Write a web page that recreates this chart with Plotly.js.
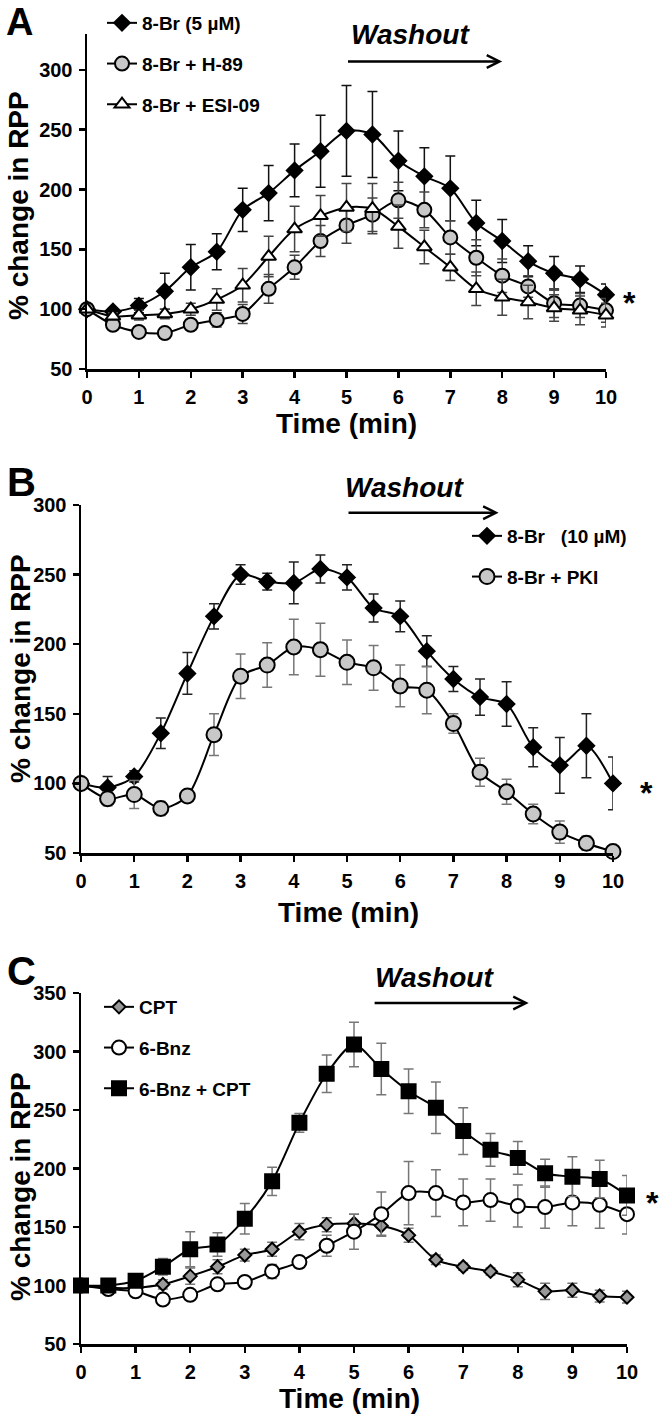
<!DOCTYPE html>
<html>
<head>
<meta charset="utf-8">
<script src="https://cdn.plot.ly/plotly-3.0.1.min.js"></script>
<style>html,body{margin:0;padding:0;background:#fff;}#chart{width:664px;height:1417px;}</style>
</head>
<body>
<div id="chart"></div>
<script>
// ---- data ----
const time = [0,0.5,1,1.5,2,2.5,3,3.5,4,4.5,5,5.5,6,6.5,7,7.5,8,8.5,9,9.5,10];

// Panel A
const aBr5     = [100,98,103,115,135,148,183,197,216,232,249,246,224,211,201,172,157,140,130,125,112];
const aBr5Err  = [0,3,6,15,19,15,18,23,22,30,38,36,25,24,27,19,18,13,14,11,9];
const aH89     = [100,87,81,80,87,91,96,117,135,157,170,179,191,183,160,143,128,119,105,103,99];
const aH89Err  = [0,3,4,4,4,6,8,12,10,13,15,14,15,15,14,15,14,9,12,10,10];
const aEsi     = [100,94,95,96,100,108,120,144,167,178,185,184,169,152,135,117,110,106,101,99,95];
const aEsiErr  = [0,3,4,4,5,9,14,17,19,17,20,21,18,14,11,14,15,14,11,12,10];

// Panel B
const bBr10    = [100,97,105,136,179,220,250,245,244,254,248,226,220,195,175,162,157,126,113,127,100];
const bBr10Err = [0,8,4,11,15,9,7,6,15,10,9,10,11,11,9,13,16,14,20,23,19];
const bPki     = [100,89,92,82,91,135,177,185,198,196,187,183,170,167,143,108,94,78,65,57,51];
const bPkiErr  = [0,5,10,5,2,15,16,16,20,19,16,16,15,17,7,10,9,7,8,5,2];

// Panel C
const cCpt     = [100,98,98,101,108,116,126,131,146,152,153,151,143,122,116,112,105,95,96,91,90];
const cCptErr  = [0,2,2,4,7,6,5,6,7,6,8,8,6,4,3,3,6,7,6,5,5];
const cBnz     = [100,97,95,88,92,101,103,112,120,134,146,161,179,179,171,173,168,167,171,169,161];
const cBnzErr  = [0,2,3,3,3,4,3,6,5,9,15,19,27,20,20,18,18,18,20,20,17];
const cCombo   = [100,100,104,116,131,135,157,189,239,281,306,285,266,252,232,216,209,196,193,191,177];
const cComboErr= [0,3,5,7,15,10,13,12,8,16,19,22,19,22,20,14,14,12,17,16,17];

const namesA = ["8-Br (5 µM)", "8-Br + H-89", "8-Br + ESI-09"];
const namesB = ["8-Br\u00A0\u00A0 (10 µM)", "8-Br + PKI"];
const namesC = ["CPT", "6-Bnz", "6-Bnz + CPT"];
const xTicks = [0,1,2,3,4,5,6,7,8,9,10];

// ---- build ----
const FONT = "Liberation Sans, Arial, Helvetica, sans-serif";
const W = 664, H = 1417;
const px = v => v / W;
const py = v => 1 - v / H;

function tr(y, err, name, xa, ya, leg, grp, sym, size, fill, errColor) {
  return {
    x: time, y: y, name: name, xaxis: xa, yaxis: ya, legend: leg, legendgroup: grp,
    type: 'scatter', mode: 'lines+markers', cliponaxis: false,
    line: {color: '#000', width: 2, shape: 'spline', smoothing: 0.8},
    marker: {symbol: sym, size: size, color: fill, line: {color: '#000', width: 2}},
    error_y: {type: 'data', array: err, visible: true, color: errColor, thickness: 1.5, width: 5}
  };
}

const data = [
  tr(aBr5, aBr5Err, namesA[0], 'x', 'y', 'legend', 'a1', 'diamond', 12, '#000', '#111'),
  tr(aH89, aH89Err, namesA[1], 'x', 'y', 'legend', 'a2', 'circle', 14, '#c8c8c8', '#444'),
  tr(aEsi, aEsiErr, namesA[2], 'x', 'y', 'legend', 'a3', 'triangle-up', 13, '#fff', '#444'),
  tr(bBr10, bBr10Err, namesB[0], 'x2', 'y2', 'legend2', 'b1', 'diamond', 12, '#000', '#222'),
  tr(bPki, bPkiErr, namesB[1], 'x2', 'y2', 'legend2', 'b2', 'circle', 15, '#c8c8c8', '#777'),
  tr(cCpt, cCptErr, namesC[0], 'x3', 'y3', 'legend3', 'c1', 'diamond', 10, '#999', '#777'),
  tr(cBnz, cBnzErr, namesC[1], 'x3', 'y3', 'legend3', 'c2', 'circle', 14, '#fff', '#777'),
  tr(cCombo, cComboErr, namesC[2], 'x3', 'y3', 'legend3', 'c3', 'square', 14, '#000', '#777')
];

const tickFont = {family: FONT, size: 20, color: '#000', weight: 'bold'};
function xax(domain, anchor) {
  return {domain: domain, anchor: anchor, range: [0, 10], tickvals: xTicks, ticktext: xTicks.map(String),
    showline: true, linecolor: '#000', linewidth: 2.5, ticks: 'outside', ticklen: 6, tickwidth: 2.5, tickcolor: '#000',
    showgrid: false, zeroline: false, tickfont: tickFont, ticklabelstandoff: 2, fixedrange: true};
}
function yax(domain, anchor, range, dtick) {
  return {domain: domain, anchor: anchor, range: range, dtick: dtick, tick0: 50,
    showline: true, linecolor: '#000', linewidth: 2.5, ticks: 'outside', ticklen: 6, tickwidth: 2.5, tickcolor: '#000',
    showgrid: false, zeroline: false, tickfont: tickFont, ticklabelstandoff: 2, fixedrange: true};
}
const legFont = {family: FONT, size: 19, color: '#000', weight: 'bold'};
function leg(x, y) {
  return {x: x, y: y, xanchor: 'left', yanchor: 'top', bgcolor: 'rgba(0,0,0,0)', borderwidth: 0,
    font: legFont, tracegroupgap: 13, traceorder: 'grouped', itemclick: false, itemdoubleclick: false};
}

const titleFont = {family: FONT, size: 28, color: '#000', weight: 'bold'};
const letterFont = {family: FONT, size: 40, color: '#000', weight: 'bold'};
const washFont = {family: FONT, size: 28, color: '#000', weight: 'bold', style: 'italic'};
const starFont = {family: FONT, size: 32, color: '#000', weight: 'bold'};

function txt(x, y, text, font, extra) {
  return Object.assign({xref: 'paper', yref: 'paper', x: px(x), y: py(y), text: text, showarrow: false,
    font: font, xanchor: 'center', yanchor: 'middle'}, extra || {});
}
function arrow(xr, yr, x0, x1, yv) {
  return {xref: xr, yref: yr, axref: xr, ayref: yr, x: x1, y: yv, ax: x0, ay: yv, text: '',
    showarrow: true, arrowhead: 5, arrowsize: 1, arrowwidth: 2.5, arrowcolor: '#000', standoff: 0, startstandoff: 0};
}

const annotations = [
  txt(5, 0, 'A', Object.assign({}, letterFont, {size: 38}), {xanchor: 'left', yanchor: 'top', borderpad: 0}),
  txt(5, 482, 'B', letterFont, {xanchor: 'left'}),
  txt(5, 971, 'C', letterFont, {xanchor: 'left'}),
  txt(18, 206, '% change in RPP', titleFont, {textangle: -90}),
  txt(20, 669, '% change in RPP', titleFont, {textangle: -90}),
  txt(20, 1187, '% change in RPP', titleFont, {textangle: -90}),
  txt(347, 423, 'Time (min)', titleFont),
  txt(348, 912, 'Time (min)', titleFont),
  txt(349, 1398, 'Time (min)', titleFont),
  txt(410, 34, 'Washout', washFont),
  txt(404, 487, 'Washout', washFont),
  txt(434, 977, 'Washout', washFont),
  arrow('x', 'y', 5, 8, 307),
  arrow('x2', 'y2', 5, 7.85, 294.5),
  arrow('x3', 'y3', 5.35, 8.2, 341.5),
  txt(629, 303, '*', starFont),
  txt(646, 793, '*', starFont),
  txt(652, 1203, '*', starFont)
];

const layout = {
  width: W, height: H, margin: {l: 0, r: 0, t: 0, b: 0}, paper_bgcolor: '#fff', plot_bgcolor: 'rgba(0,0,0,0)',
  font: {family: FONT, color: '#000'},
  showlegend: true,
  xaxis: xax([px(87), px(606)], 'y'),
  yaxis: yax([py(369), py(34)], 'x', [50, 330], 50),
  xaxis2: xax([px(81), px(613)], 'y2'),
  yaxis2: yax([py(853), py(505)], 'x2', [50, 300], 50),
  xaxis3: xax([px(81), px(627)], 'y3'),
  yaxis3: yax([py(1344), py(993)], 'x3', [50, 350], 50),
  legend: leg(px(102), py(4)),
  legend2: leg(px(467), py(517)),
  legend3: leg(px(99), py(988)),
  annotations: annotations
};

Plotly.newPlot('chart', data, layout, {staticPlot: true, displayModeBar: false});
</script>
</body>
</html>
